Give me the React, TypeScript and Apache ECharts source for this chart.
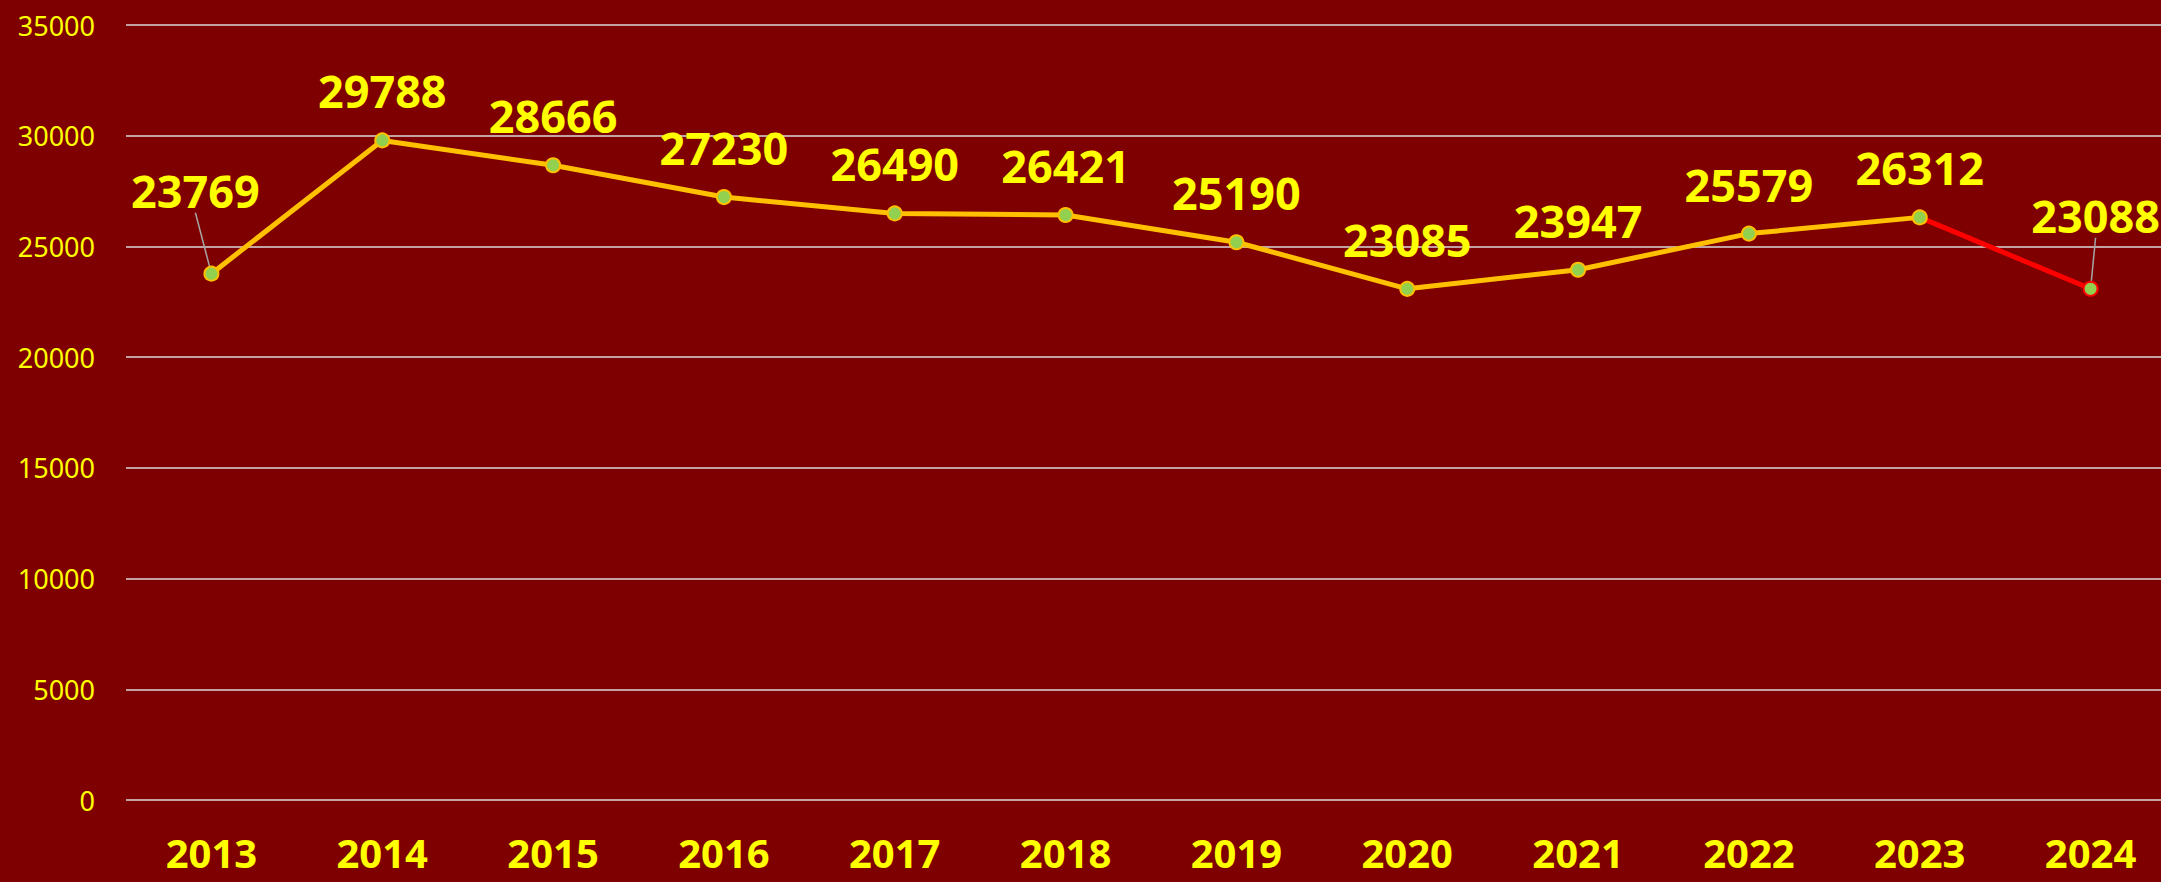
import React, { useEffect, useRef } from "react";
import * as echarts from "echarts";

const years = ["2013", "2014", "2015", "2016", "2017", "2018", "2019", "2020", "2021", "2022", "2023", "2024"];
const values = [23769, 29788, 28666, 27230, 26490, 26421, 25190, 23085, 23947, 25579, 26312, 23088];
const yTicks = { min: 0, max: 35000, interval: 5000 };

const YELLOW = "#FFFF00";
const GOLD = "#FFC000";
const RED = "#FF0000";
const GREEN = "#92D050";
const BG = "#7F0000";
const GUIDE = "#A6A6A6";
const FONT = "'Noto Sans', sans-serif";

export default function App() {
  const ref = useRef<HTMLDivElement>(null);
  useEffect(() => {
    if (!ref.current) return;
    const chart = echarts.init(ref.current, undefined, { renderer: "svg" });
    const n = values.length;
    const labelBase = {
      show: true,
      position: "top" as const,
      distance: 19,
      color: YELLOW,
      fontFamily: FONT,
      fontWeight: "bold" as const,
      fontSize: 45,
    };
    const guide = { show: true, lineStyle: { color: GUIDE, width: 1.5 } };
    const redData = values.map((v, i) => {
      if (i === n - 1) return { value: v, labelLine: guide };
      if (i === n - 2) return { value: v, symbol: "none", label: { show: false } };
      return "-";
    });
    const mainData = values.map((v, i) => {
      if (i === n - 1) return "-";
      if (i === 0) return { value: v, labelLine: guide };
      return v;
    });
    chart.setOption({
      animation: false,
      backgroundColor: BG,
      grid: { left: 126, right: 0, top: 25, bottom: 82 },
      xAxis: {
        type: "category",
        data: years,
        boundaryGap: true,
        axisLine: { show: false },
        axisTick: { show: false },
        axisLabel: {
          color: YELLOW,
          fontFamily: FONT,
          fontWeight: "bold",
          fontSize: 40,
          lineHeight: 30,
          margin: 37,
        },
      },
      yAxis: {
        type: "value",
        min: yTicks.min,
        max: yTicks.max,
        interval: yTicks.interval,
        axisLine: { show: false },
        axisTick: { show: false },
        axisLabel: {
          color: YELLOW,
          fontFamily: FONT,
          fontSize: 27,
          margin: 31,
          formatter: (v: number) => String(v),
        },
        splitLine: { lineStyle: { color: "#D9D9D9", width: 1.5 } },
      },
      series: [
        {
          type: "line",
          data: redData,
          z: 2,
          lineStyle: { color: RED, width: 5 },
          symbol: "circle",
          symbolSize: 14,
          itemStyle: { color: GREEN, borderColor: RED, borderWidth: 2 },
          label: labelBase,
          labelLine: { show: false },
          labelLayout: (p: any) => (p.dataIndex === n - 1 ? { dx: 5, dy: -24 } : {}),
        },
        {
          type: "line",
          data: mainData,
          z: 3,
          lineStyle: { color: GOLD, width: 5 },
          symbol: "circle",
          symbolSize: 14,
          itemStyle: { color: GREEN, borderColor: GOLD, borderWidth: 2 },
          label: labelBase,
          labelLine: { show: false },
          labelLayout: (p: any) => (p.dataIndex === 0 ? { dx: -16, dy: -34 } : {}),
        },
      ],
    });
    return () => chart.dispose();
  }, []);
  return (
    <div
      style={{ position: "absolute", left: 0, top: 0, width: 2161, height: 882, overflow: "hidden" }}
    >
      <div ref={ref} style={{ width: 2176, height: 882 }} />
    </div>
  );
}
